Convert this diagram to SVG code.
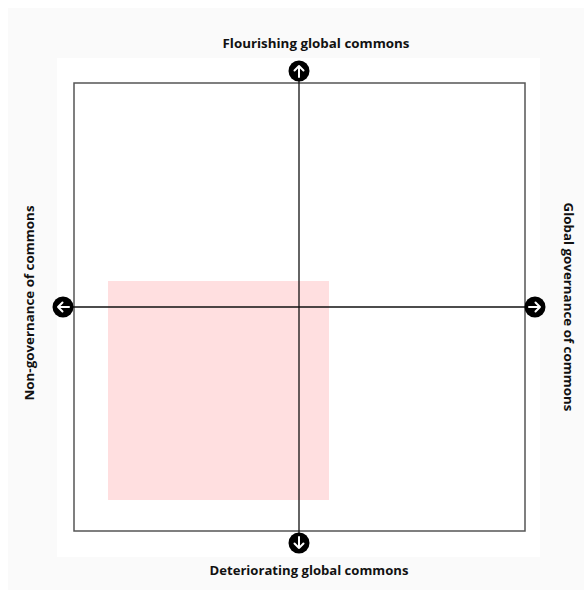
<svg xmlns="http://www.w3.org/2000/svg" width="584" height="590" viewBox="0 0 584 590">
  <style>
    .lbl { font-family: "Open Sans", "Liberation Sans", sans-serif; font-weight: 700; font-size: 12.5px; fill: #111; }
    .axis { stroke: #111; stroke-width: 1.3; fill: none; }
    .frame { stroke: #555; stroke-width: 1.5; fill: none; }
    .knob { fill: #000; }
    .glyph { stroke: #fff; stroke-width: 2; fill: none; stroke-linecap: round; stroke-linejoin: round; }
  </style>
  <defs>
    <!-- round arrow badge pointing up; rotated for the other ends -->
    <g id="badge">
      <circle class="knob" cx="0" cy="0" r="10.5"/>
      <path class="glyph" d="M0 6 V-5 M-4.5 -0.5 L0 -5 L4.5 -0.5"/>
    </g>
  </defs>

  <rect x="0" y="0" width="584" height="590" fill="#ffffff"/>
  <rect x="8" y="8" width="576" height="582" fill="#fafafa"/>
  <rect x="57" y="58" width="483" height="499" fill="#ffffff"/>

  <g id="quadrant-frame">
    <rect class="frame" x="74" y="83" width="451" height="448"/>
  </g>

  <g id="highlight">
    <rect x="108" y="281" width="221" height="219" fill="#ffdfe0"/>
  </g>

  <g id="connectors">
    <line class="axis" x1="299" y1="71" x2="299" y2="543"/>
    <line class="axis" x1="63" y1="307" x2="535" y2="307"/>
  </g>

  <g id="node-top">
    <use href="#badge" transform="translate(299,71)"/>
    <text class="lbl" x="316" y="48" text-anchor="middle" textLength="187" lengthAdjust="spacingAndGlyphs">Flourishing global commons</text>
  </g>
  <g id="node-bottom">
    <use href="#badge" transform="translate(299,543) rotate(180)"/>
    <text class="lbl" x="309" y="575" text-anchor="middle" textLength="199" lengthAdjust="spacingAndGlyphs">Deteriorating global commons</text>
  </g>
  <g id="node-left">
    <use href="#badge" transform="translate(63,307) rotate(-90)"/>
    <text class="lbl" transform="translate(34,303) rotate(-90)" text-anchor="middle" textLength="195" lengthAdjust="spacingAndGlyphs">Non-governance of commons</text>
  </g>
  <g id="node-right">
    <use href="#badge" transform="translate(535,307) rotate(90)"/>
    <text class="lbl" transform="translate(564,307) rotate(90)" text-anchor="middle" textLength="209" lengthAdjust="spacingAndGlyphs">Global governance of commons</text>
  </g>
</svg>
